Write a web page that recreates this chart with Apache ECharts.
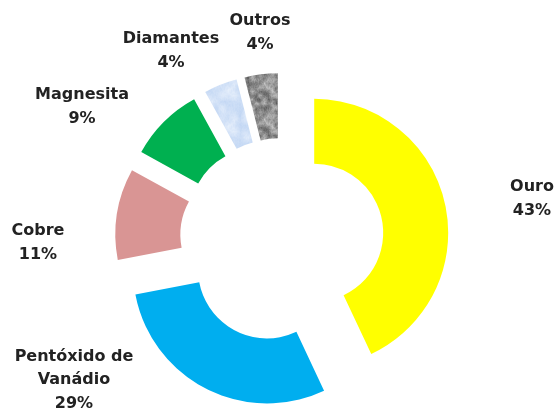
<!DOCTYPE html>
<html>
<head>
<meta charset="utf-8">
<script src="https://cdn.jsdelivr.net/npm/echarts@6/dist/echarts.min.js"></script>
<style>
  html, body { margin: 0; padding: 0; background: #fff; }
  #chart { width: 555px; height: 412px; }
</style>
</head>
<body>
<div id="chart"></div>
<script>
// Participação por substância (%)
const categories = ['Ouro', 'Pentóxido de Vanádio', 'Cobre', 'Magnesita', 'Diamantes', 'Outros'];
const shares = [43, 29, 11, 9, 4, 4];

// Centre of each label block, one entry per category
const labelAnchors = [[532, 199], [74, 380], [38, 243], [82, 107], [171, 51], [260, 33]];

// Wrap long names onto several lines
function wrap(text, maxChars) {
  const lines = [];
  let cur = '';
  text.split(' ').forEach(w => {
    if (cur && (cur + ' ' + w).length > maxChars) { lines.push(cur); cur = w; }
    else cur = cur ? cur + ' ' + w : w;
  });
  if (cur) lines.push(cur);
  return lines.join('\n');
}

// Small mottled fill used for the two textured slices
function mottled(size, cell, lo, hi, speck) {
  const cv = document.createElement('canvas');
  cv.width = cv.height = size;
  const ctx = cv.getContext('2d');
  const img = ctx.createImageData(size, size);
  const h = (i, j) => {
    const s = Math.sin(i * 12.9898 + j * 78.233) * 43758.5453;
    return s - Math.floor(s);
  };
  const n = size / cell;
  for (let y = 0; y < size; y++) {
    for (let x = 0; x < size; x++) {
      const gx = x / cell, gy = y / cell;
      const x0 = Math.floor(gx), y0 = Math.floor(gy);
      const fx = gx - x0, fy = gy - y0;
      const a = h(x0 % n, y0 % n), b = h((x0 + 1) % n, y0 % n);
      const c = h(x0 % n, (y0 + 1) % n), d = h((x0 + 1) % n, (y0 + 1) % n);
      let t = (a * (1 - fx) + b * fx) * (1 - fy) + (c * (1 - fx) + d * fx) * fy;
      t = Math.min(1, Math.max(0, t * (1 - speck) + h(x + 101, y + 37) * speck));
      const k = (y * size + x) * 4;
      for (let ch = 0; ch < 3; ch++) img.data[k + ch] = Math.round(lo[ch] + (hi[ch] - lo[ch]) * t);
      img.data[k + 3] = 255;
    }
  }
  ctx.putImageData(img, 0, 0);
  return cv;
}

const diamondFill = { image: mottled(36, 6, [190, 212, 243], [236, 243, 253], 0.25), repeat: 'repeat' };
const otherFill = { image: mottled(36, 4, [80, 80, 80], [215, 215, 215], 0.3), repeat: 'repeat' };

const colors = ['#FFFF00', '#00AEEF', '#D99594', '#00B050', diamondFill, otherFill];

// Category labels: name and share, centred on their anchor
const labelTexts = categories.map((name, i) => ({
  type: 'text',
  x: labelAnchors[i][0],
  y: labelAnchors[i][1],
  silent: true,
  style: {
    text: wrap(name, 14) + '\n' + shares[i] + '%',
    fontFamily: 'DejaVu Sans',
    fontWeight: 'bold',
    fontSize: 16,
    lineHeight: 23.5,
    fill: '#222222',
    align: 'center',
    verticalAlign: 'middle'
  }
}));

const chart = echarts.init(document.getElementById('chart'), null, { renderer: 'canvas' });

chart.setOption({
  animation: false,
  backgroundColor: '#ffffff',
  graphic: labelTexts,
  series: [{
    type: 'pie',
    center: [282, 240],
    radius: [69, 134],
    startAngle: 90,
    clockwise: true,
    selectedMode: 'multiple',
    selectedOffset: 33,
    avoidLabelOverlap: false,
    emphasis: { disabled: true },
    select: { itemStyle: { borderWidth: 0 } },
    itemStyle: { borderWidth: 0 },
    label: { show: false },
    labelLine: { show: false },
    data: categories.map((name, i) => ({
      name: name,
      value: shares[i],
      selected: true,
      itemStyle: { color: colors[i] }
    }))
  }]
});
</script>
</body>
</html>
